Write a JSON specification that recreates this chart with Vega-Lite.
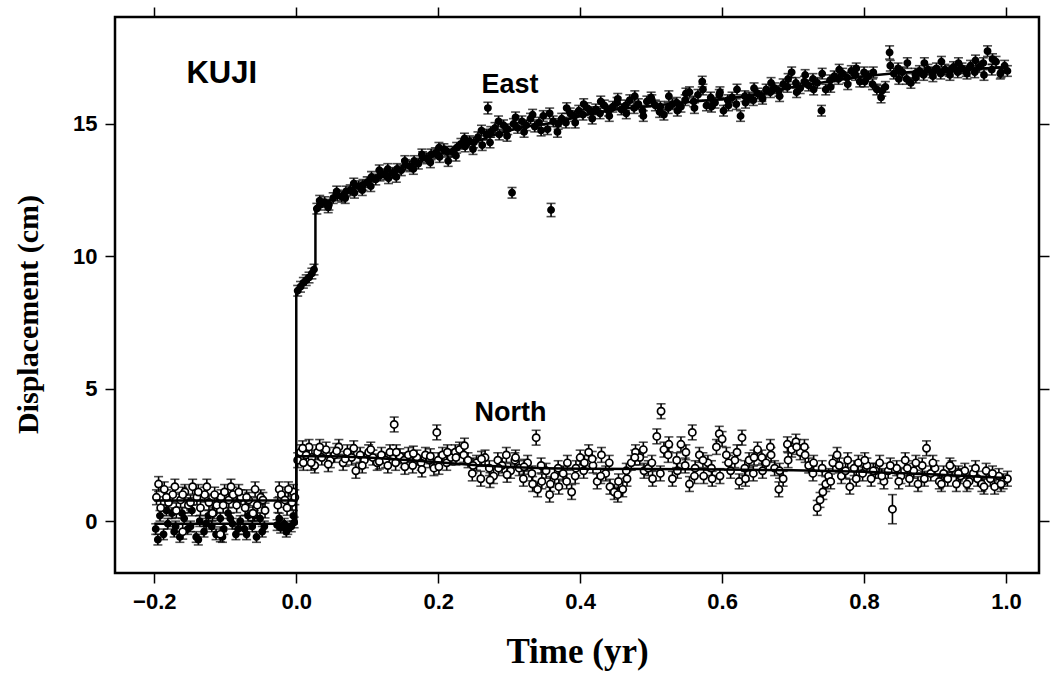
{
"$schema":"https://vega.github.io/schema/vega-lite/v6.json",
"width":924,"height":556,
"autosize":{"type":"none"},
"padding":{"left":115,"top":17,"right":11,"bottom":100},
"background":"white",
"config":{
 "view":{"stroke":"black","strokeWidth":2.5},
 "axis":{"domain":false,"grid":false,"tickColor":"black","tickWidth":1.5,"tickSize":10,"labelColor":"black","labelFont":"Liberation Sans","labelFontWeight":"bold","labelFontSize":22,"titleFont":"Liberation Serif","titleFontWeight":"bold","titleFontSize":30,"titleColor":"black"}
},
"datasets":{
"obs":[
{"s":"E","t":-0.198,"v":-0.3,"e":0.2},{"s":"E","t":-0.192,"v":0.2,"e":0.2},{"s":"E","t":-0.187,"v":-0.5,"e":0.2},{"s":"E","t":-0.181,"v":-0.1,"e":0.2},{"s":"E","t":-0.175,"v":0.3,"e":0.2},{"s":"E","t":-0.17,"v":-0.2,"e":0.2},{"s":"E","t":-0.164,"v":-0.6,"e":0.2},{"s":"E","t":-0.158,"v":0.1,"e":0.2},{"s":"E","t":-0.153,"v":-0.3,"e":0.2},{"s":"E","t":-0.147,"v":0.4,"e":0.2},{"s":"E","t":-0.141,"v":-0.6,"e":0.2},{"s":"E","t":-0.136,"v":0.0,"e":0.2},{"s":"E","t":-0.13,"v":-0.4,"e":0.2},{"s":"E","t":-0.124,"v":0.2,"e":0.2},{"s":"E","t":-0.119,"v":-0.2,"e":0.2},{"s":"E","t":-0.113,"v":-0.5,"e":0.2},{"s":"E","t":-0.107,"v":0.1,"e":0.2},{"s":"E","t":-0.102,"v":-0.3,"e":0.2},{"s":"E","t":-0.096,"v":0.3,"e":0.2},{"s":"E","t":-0.09,"v":-0.1,"e":0.2},{"s":"E","t":-0.085,"v":-0.5,"e":0.2},{"s":"E","t":-0.079,"v":0.0,"e":0.2},{"s":"E","t":-0.073,"v":-0.3,"e":0.2},{"s":"E","t":-0.068,"v":0.2,"e":0.2},{"s":"E","t":-0.062,"v":-0.2,"e":0.2},{"s":"E","t":-0.056,"v":-0.6,"e":0.2},{"s":"E","t":-0.051,"v":0.1,"e":0.2},{"s":"E","t":-0.045,"v":-0.2,"e":0.2},
{"s":"E","t":-0.195,"v":-0.7,"e":0.2},{"s":"E","t":-0.183,"v":0.4,"e":0.2},{"s":"E","t":-0.172,"v":-0.4,"e":0.2},{"s":"E","t":-0.161,"v":0.3,"e":0.2},{"s":"E","t":-0.149,"v":-0.2,"e":0.2},{"s":"E","t":-0.138,"v":-0.7,"e":0.2},{"s":"E","t":-0.127,"v":-0.1,"e":0.2},{"s":"E","t":-0.116,"v":0.3,"e":0.2},{"s":"E","t":-0.104,"v":-0.6,"e":0.2},{"s":"E","t":-0.093,"v":0.1,"e":0.2},{"s":"E","t":-0.082,"v":-0.3,"e":0.2},{"s":"E","t":-0.07,"v":-0.5,"e":0.2},{"s":"E","t":-0.059,"v":0.2,"e":0.2},{"s":"E","t":-0.048,"v":-0.4,"e":0.2},{"s":"E","t":-0.024,"v":0.1,"e":0.2},{"s":"E","t":-0.014,"v":-0.4,"e":0.2},{"s":"E","t":-0.004,"v":0.2,"e":0.2},
{"s":"E","t":-0.027,"v":-0.15,"e":0.2},{"s":"E","t":-0.022,"v":-0.25,"e":0.2},{"s":"E","t":-0.017,"v":-0.1,"e":0.2},{"s":"E","t":-0.012,"v":-0.3,"e":0.2},{"s":"E","t":-0.007,"v":-0.2,"e":0.2},{"s":"E","t":-0.003,"v":-0.05,"e":0.2},
{"s":"E","t":0.002,"v":8.7,"e":0.2},{"s":"E","t":0.006,"v":8.85,"e":0.2},{"s":"E","t":0.01,"v":9.0,"e":0.2},{"s":"E","t":0.014,"v":9.1,"e":0.2},{"s":"E","t":0.018,"v":9.2,"e":0.2},{"s":"E","t":0.022,"v":9.35,"e":0.2},{"s":"E","t":0.025,"v":9.5,"e":0.2},
{"s":"E","t":0.029,"v":11.8,"e":0.2},{"s":"E","t":0.034,"v":11.95,"e":0.2},{"s":"E","t":0.04,"v":12.05,"e":0.2},{"s":"E","t":0.046,"v":11.95,"e":0.2},{"s":"E","t":0.052,"v":12.2,"e":0.2},{"s":"E","t":0.058,"v":12.3,"e":0.2},{"s":"E","t":0.064,"v":12.25,"e":0.2},{"s":"E","t":0.07,"v":12.45,"e":0.2},{"s":"E","t":0.076,"v":12.5,"e":0.2},{"s":"E","t":0.082,"v":12.4,"e":0.2},{"s":"E","t":0.088,"v":12.65,"e":0.2},{"s":"E","t":0.094,"v":12.7,"e":0.2},{"s":"E","t":0.1,"v":12.8,"e":0.2},{"s":"E","t":0.106,"v":13.0,"e":0.2},{"s":"E","t":0.112,"v":12.9,"e":0.2},{"s":"E","t":0.118,"v":13.05,"e":0.2},{"s":"E","t":0.124,"v":13.1,"e":0.2},{"s":"E","t":0.13,"v":12.95,"e":0.2},{"s":"E","t":0.136,"v":13.15,"e":0.2},{"s":"E","t":0.142,"v":13.3,"e":0.2},{"s":"E","t":0.148,"v":13.25,"e":0.2},{"s":"E","t":0.154,"v":13.45,"e":0.2},{"s":"E","t":0.16,"v":13.4,"e":0.2},{"s":"E","t":0.166,"v":13.6,"e":0.2},{"s":"E","t":0.172,"v":13.5,"e":0.2},{"s":"E","t":0.178,"v":13.75,"e":0.2},{"s":"E","t":0.184,"v":13.7,"e":0.2},{"s":"E","t":0.19,"v":13.85,"e":0.2},{"s":"E","t":0.196,"v":13.9,"e":0.2},{"s":"E","t":0.202,"v":13.75,"e":0.2},{"s":"E","t":0.208,"v":14.05,"e":0.2},{"s":"E","t":0.214,"v":13.6,"e":0.2},{"s":"E","t":0.22,"v":13.95,"e":0.2},{"s":"E","t":0.226,"v":14.1,"e":0.2},{"s":"E","t":0.232,"v":14.25,"e":0.2},{"s":"E","t":0.238,"v":14.15,"e":0.2},{"s":"E","t":0.244,"v":14.35,"e":0.2},{"s":"E","t":0.25,"v":14.3,"e":0.2},{"s":"E","t":0.256,"v":14.5,"e":0.2},{"s":"E","t":0.262,"v":14.2,"e":0.2},{"s":"E","t":0.268,"v":14.6,"e":0.2},{"s":"E","t":0.27,"v":15.6,"e":0.22},{"s":"E","t":0.274,"v":14.7,"e":0.2},{"s":"E","t":0.28,"v":14.85,"e":0.2},{"s":"E","t":0.286,"v":14.6,"e":0.2},{"s":"E","t":0.292,"v":14.95,"e":0.2},{"s":"E","t":0.298,"v":14.8,"e":0.2},{"s":"E","t":0.304,"v":12.4,"e":0.2},{"s":"E","t":0.306,"v":15.0,"e":0.2},{"s":"E","t":0.312,"v":14.85,"e":0.2},{"s":"E","t":0.318,"v":15.1,"e":0.2},{"s":"E","t":0.324,"v":14.95,"e":0.2},{"s":"E","t":0.33,"v":15.2,"e":0.2},{"s":"E","t":0.336,"v":14.9,"e":0.2},{"s":"E","t":0.342,"v":15.05,"e":0.2},{"s":"E","t":0.348,"v":15.3,"e":0.2},{"s":"E","t":0.354,"v":14.8,"e":0.2},{"s":"E","t":0.359,"v":11.75,"e":0.25},{"s":"E","t":0.362,"v":15.1,"e":0.2},{"s":"E","t":0.368,"v":14.7,"e":0.2},{"s":"E","t":0.374,"v":15.2,"e":0.2},{"s":"E","t":0.38,"v":15.05,"e":0.2},{"s":"E","t":0.386,"v":15.4,"e":0.2},{"s":"E","t":0.392,"v":15.3,"e":0.2},{"s":"E","t":0.398,"v":15.5,"e":0.2},{"s":"E","t":0.404,"v":15.35,"e":0.2},{"s":"E","t":0.41,"v":15.6,"e":0.2},{"s":"E","t":0.416,"v":15.45,"e":0.2},{"s":"E","t":0.422,"v":15.55,"e":0.2},{"s":"E","t":0.428,"v":15.4,"e":0.2},{"s":"E","t":0.434,"v":15.7,"e":0.2},{"s":"E","t":0.44,"v":15.5,"e":0.2},{"s":"E","t":0.446,"v":15.65,"e":0.2},{"s":"E","t":0.452,"v":15.8,"e":0.2},{"s":"E","t":0.458,"v":15.55,"e":0.2},{"s":"E","t":0.464,"v":15.7,"e":0.2},{"s":"E","t":0.47,"v":15.9,"e":0.2},{"s":"E","t":0.476,"v":15.6,"e":0.2},{"s":"E","t":0.482,"v":15.75,"e":0.2},{"s":"E","t":0.488,"v":15.5,"e":0.2},{"s":"E","t":0.494,"v":15.85,"e":0.2},{"s":"E","t":0.5,"v":16.0,"e":0.2},{"s":"E","t":0.506,"v":15.7,"e":0.2},{"s":"E","t":0.512,"v":15.45,"e":0.2},{"s":"E","t":0.518,"v":15.35,"e":0.2},{"s":"E","t":0.524,"v":15.6,"e":0.2},{"s":"E","t":0.53,"v":15.75,"e":0.2},{"s":"E","t":0.536,"v":15.8,"e":0.2},{"s":"E","t":0.542,"v":15.65,"e":0.2},{"s":"E","t":0.548,"v":15.9,"e":0.2},{"s":"E","t":0.554,"v":16.2,"e":0.2},{"s":"E","t":0.56,"v":15.85,"e":0.2},{"s":"E","t":0.566,"v":16.1,"e":0.2},{"s":"E","t":0.572,"v":16.6,"e":0.2},{"s":"E","t":0.578,"v":15.7,"e":0.2},{"s":"E","t":0.584,"v":16.0,"e":0.2},{"s":"E","t":0.59,"v":15.8,"e":0.2},{"s":"E","t":0.596,"v":16.1,"e":0.2},{"s":"E","t":0.602,"v":15.5,"e":0.2},{"s":"E","t":0.608,"v":15.9,"e":0.2},{"s":"E","t":0.614,"v":16.0,"e":0.2},{"s":"E","t":0.62,"v":15.75,"e":0.2},{"s":"E","t":0.626,"v":15.3,"e":0.2},{"s":"E","t":0.632,"v":16.05,"e":0.2},{"s":"E","t":0.638,"v":16.0,"e":0.2},{"s":"E","t":0.644,"v":15.9,"e":0.2},{"s":"E","t":0.65,"v":16.15,"e":0.2},{"s":"E","t":0.656,"v":16.05,"e":0.2},{"s":"E","t":0.662,"v":16.3,"e":0.2},{"s":"E","t":0.668,"v":16.2,"e":0.2},{"s":"E","t":0.674,"v":16.35,"e":0.2},{"s":"E","t":0.68,"v":16.25,"e":0.2},{"s":"E","t":0.686,"v":16.5,"e":0.2},{"s":"E","t":0.692,"v":16.4,"e":0.2},{"s":"E","t":0.698,"v":16.95,"e":0.2},{"s":"E","t":0.704,"v":16.55,"e":0.2},{"s":"E","t":0.71,"v":16.35,"e":0.2},{"s":"E","t":0.716,"v":16.6,"e":0.2},{"s":"E","t":0.722,"v":16.45,"e":0.2},{"s":"E","t":0.728,"v":16.7,"e":0.2},{"s":"E","t":0.734,"v":16.55,"e":0.2},{"s":"E","t":0.74,"v":15.5,"e":0.2},{"s":"E","t":0.746,"v":16.3,"e":0.2},{"s":"E","t":0.752,"v":16.65,"e":0.2},{"s":"E","t":0.758,"v":16.8,"e":0.2},{"s":"E","t":0.764,"v":16.7,"e":0.2},{"s":"E","t":0.77,"v":16.9,"e":0.2},{"s":"E","t":0.776,"v":16.75,"e":0.2},{"s":"E","t":0.782,"v":17.0,"e":0.2},{"s":"E","t":0.788,"v":16.85,"e":0.2},{"s":"E","t":0.794,"v":16.6,"e":0.2},{"s":"E","t":0.8,"v":16.95,"e":0.2},{"s":"E","t":0.806,"v":16.8,"e":0.2},{"s":"E","t":0.812,"v":16.5,"e":0.2},{"s":"E","t":0.818,"v":16.3,"e":0.2},{"s":"E","t":0.824,"v":16.0,"e":0.2},{"s":"E","t":0.83,"v":16.4,"e":0.2},{"s":"E","t":0.836,"v":17.7,"e":0.25},{"s":"E","t":0.842,"v":16.9,"e":0.2},{"s":"E","t":0.848,"v":17.1,"e":0.2},{"s":"E","t":0.854,"v":16.95,"e":0.2},{"s":"E","t":0.86,"v":16.7,"e":0.2},{"s":"E","t":0.866,"v":16.55,"e":0.2},{"s":"E","t":0.872,"v":16.9,"e":0.2},{"s":"E","t":0.878,"v":17.0,"e":0.2},{"s":"E","t":0.884,"v":16.85,"e":0.2},{"s":"E","t":0.89,"v":17.05,"e":0.2},{"s":"E","t":0.896,"v":16.95,"e":0.2},{"s":"E","t":0.902,"v":17.1,"e":0.2},{"s":"E","t":0.908,"v":16.9,"e":0.2},{"s":"E","t":0.914,"v":17.05,"e":0.2},{"s":"E","t":0.92,"v":17.0,"e":0.2},{"s":"E","t":0.926,"v":17.15,"e":0.2},{"s":"E","t":0.932,"v":16.95,"e":0.2},{"s":"E","t":0.938,"v":17.1,"e":0.2},{"s":"E","t":0.944,"v":17.0,"e":0.2},{"s":"E","t":0.95,"v":17.2,"e":0.2},{"s":"E","t":0.956,"v":16.95,"e":0.2},{"s":"E","t":0.962,"v":17.15,"e":0.2},{"s":"E","t":0.968,"v":17.3,"e":0.2},{"s":"E","t":0.974,"v":17.75,"e":0.2},{"s":"E","t":0.98,"v":17.05,"e":0.2},{"s":"E","t":0.986,"v":17.35,"e":0.2},{"s":"E","t":0.992,"v":16.9,"e":0.2},{"s":"E","t":0.998,"v":17.2,"e":0.2},{"s":"E","t":1.002,"v":17.0,"e":0.2},
{"s":"E","t":0.033,"v":12.1,"e":0.2},{"s":"E","t":0.045,"v":11.85,"e":0.2},{"s":"E","t":0.057,"v":12.45,"e":0.2},{"s":"E","t":0.069,"v":12.2,"e":0.2},{"s":"E","t":0.081,"v":12.75,"e":0.2},{"s":"E","t":0.093,"v":12.5,"e":0.2},{"s":"E","t":0.105,"v":12.65,"e":0.2},{"s":"E","t":0.117,"v":13.25,"e":0.2},{"s":"E","t":0.129,"v":13.3,"e":0.2},{"s":"E","t":0.141,"v":13.0,"e":0.2},{"s":"E","t":0.153,"v":13.6,"e":0.2},{"s":"E","t":0.165,"v":13.3,"e":0.2},{"s":"E","t":0.177,"v":13.85,"e":0.2},{"s":"E","t":0.189,"v":13.55,"e":0.2},{"s":"E","t":0.201,"v":14.1,"e":0.2},{"s":"E","t":0.213,"v":13.95,"e":0.2},{"s":"E","t":0.225,"v":13.8,"e":0.2},{"s":"E","t":0.237,"v":14.45,"e":0.2},{"s":"E","t":0.249,"v":14.05,"e":0.2},{"s":"E","t":0.261,"v":14.75,"e":0.2},{"s":"E","t":0.273,"v":14.3,"e":0.2},{"s":"E","t":0.285,"v":15.1,"e":0.2},{"s":"E","t":0.297,"v":14.55,"e":0.2},{"s":"E","t":0.309,"v":15.25,"e":0.2},{"s":"E","t":0.321,"v":14.7,"e":0.2},{"s":"E","t":0.333,"v":15.35,"e":0.2},{"s":"E","t":0.345,"v":14.75,"e":0.2},{"s":"E","t":0.357,"v":15.4,"e":0.2},{"s":"E","t":0.369,"v":15.0,"e":0.2},{"s":"E","t":0.381,"v":15.6,"e":0.2},{"s":"E","t":0.393,"v":15.05,"e":0.2},{"s":"E","t":0.405,"v":15.75,"e":0.2},{"s":"E","t":0.417,"v":15.2,"e":0.2},{"s":"E","t":0.429,"v":15.85,"e":0.2},{"s":"E","t":0.441,"v":15.3,"e":0.2},{"s":"E","t":0.453,"v":15.95,"e":0.2},{"s":"E","t":0.465,"v":15.4,"e":0.2},{"s":"E","t":0.477,"v":16.05,"e":0.2},{"s":"E","t":0.489,"v":15.3,"e":0.2},{"s":"E","t":0.501,"v":15.9,"e":0.2},{"s":"E","t":0.513,"v":15.65,"e":0.2},{"s":"E","t":0.525,"v":16.05,"e":0.2},{"s":"E","t":0.537,"v":15.5,"e":0.2},{"s":"E","t":0.549,"v":16.15,"e":0.2},{"s":"E","t":0.561,"v":15.6,"e":0.2},{"s":"E","t":0.573,"v":16.3,"e":0.2},{"s":"E","t":0.585,"v":15.65,"e":0.2},{"s":"E","t":0.597,"v":16.2,"e":0.2},{"s":"E","t":0.609,"v":15.7,"e":0.2},{"s":"E","t":0.621,"v":16.3,"e":0.2},{"s":"E","t":0.633,"v":15.8,"e":0.2},{"s":"E","t":0.645,"v":16.35,"e":0.2},{"s":"E","t":0.657,"v":15.95,"e":0.2},{"s":"E","t":0.669,"v":16.55,"e":0.2},{"s":"E","t":0.681,"v":16.05,"e":0.2},{"s":"E","t":0.693,"v":16.7,"e":0.2},{"s":"E","t":0.705,"v":16.2,"e":0.2},{"s":"E","t":0.717,"v":16.85,"e":0.2},{"s":"E","t":0.729,"v":16.3,"e":0.2},{"s":"E","t":0.741,"v":16.9,"e":0.2},{"s":"E","t":0.753,"v":16.4,"e":0.2},{"s":"E","t":0.765,"v":17.05,"e":0.2},{"s":"E","t":0.777,"v":16.5,"e":0.2},{"s":"E","t":0.789,"v":17.1,"e":0.2},{"s":"E","t":0.801,"v":16.6,"e":0.2},{"s":"E","t":0.813,"v":16.95,"e":0.2},{"s":"E","t":0.825,"v":16.25,"e":0.2},{"s":"E","t":0.837,"v":17.2,"e":0.2},{"s":"E","t":0.849,"v":16.7,"e":0.2},{"s":"E","t":0.861,"v":17.3,"e":0.2},{"s":"E","t":0.873,"v":16.75,"e":0.2},{"s":"E","t":0.885,"v":17.3,"e":0.2},{"s":"E","t":0.897,"v":16.8,"e":0.2},{"s":"E","t":0.909,"v":17.35,"e":0.2},{"s":"E","t":0.921,"v":16.85,"e":0.2},{"s":"E","t":0.933,"v":17.3,"e":0.2},{"s":"E","t":0.945,"v":16.9,"e":0.2},{"s":"E","t":0.957,"v":17.4,"e":0.2},{"s":"E","t":0.969,"v":16.85,"e":0.2},{"s":"E","t":0.981,"v":17.45,"e":0.2},{"s":"E","t":0.993,"v":16.95,"e":0.2},
{"s":"N","t":-0.197,"v":0.9,"e":0.28},{"s":"N","t":-0.191,"v":0.5,"e":0.28},{"s":"N","t":-0.186,"v":1.2,"e":0.28},{"s":"N","t":-0.18,"v":0.7,"e":0.28},{"s":"N","t":-0.174,"v":1.0,"e":0.28},{"s":"N","t":-0.169,"v":0.4,"e":0.28},{"s":"N","t":-0.163,"v":0.8,"e":0.28},{"s":"N","t":-0.16,"v":-0.4,"e":0.28},{"s":"N","t":-0.157,"v":1.1,"e":0.28},{"s":"N","t":-0.152,"v":0.6,"e":0.28},{"s":"N","t":-0.146,"v":1.3,"e":0.28},{"s":"N","t":-0.14,"v":0.9,"e":0.28},{"s":"N","t":-0.135,"v":0.5,"e":0.28},{"s":"N","t":-0.129,"v":1.0,"e":0.28},{"s":"N","t":-0.123,"v":0.7,"e":0.28},{"s":"N","t":-0.118,"v":0.3,"e":0.28},{"s":"N","t":-0.112,"v":0.6,"e":0.28},{"s":"N","t":-0.107,"v":-0.5,"e":0.28},{"s":"N","t":-0.106,"v":0.9,"e":0.28},{"s":"N","t":-0.101,"v":1.1,"e":0.28},{"s":"N","t":-0.095,"v":0.8,"e":0.28},{"s":"N","t":-0.089,"v":1.0,"e":0.28},{"s":"N","t":-0.084,"v":0.6,"e":0.28},{"s":"N","t":-0.078,"v":0.9,"e":0.28},{"s":"N","t":-0.072,"v":0.5,"e":0.28},{"s":"N","t":-0.067,"v":0.8,"e":0.28},{"s":"N","t":-0.061,"v":0.3,"e":0.28},{"s":"N","t":-0.055,"v":0.6,"e":0.28},{"s":"N","t":-0.05,"v":0.9,"e":0.28},{"s":"N","t":-0.044,"v":0.4,"e":0.28},
{"s":"N","t":-0.194,"v":1.4,"e":0.28},{"s":"N","t":-0.183,"v":0.9,"e":0.28},{"s":"N","t":-0.171,"v":1.3,"e":0.28},{"s":"N","t":-0.16,"v":1.0,"e":0.28},{"s":"N","t":-0.149,"v":0.7,"e":0.28},{"s":"N","t":-0.138,"v":1.1,"e":0.28},{"s":"N","t":-0.126,"v":1.3,"e":0.28},{"s":"N","t":-0.115,"v":1.0,"e":0.28},{"s":"N","t":-0.103,"v":0.6,"e":0.28},{"s":"N","t":-0.092,"v":1.3,"e":0.28},{"s":"N","t":-0.081,"v":1.1,"e":0.28},{"s":"N","t":-0.07,"v":0.9,"e":0.28},{"s":"N","t":-0.058,"v":1.2,"e":0.28},{"s":"N","t":-0.047,"v":0.8,"e":0.28},{"s":"N","t":-0.024,"v":1.2,"e":0.28},{"s":"N","t":-0.013,"v":0.5,"e":0.28},{"s":"N","t":-0.004,"v":1.1,"e":0.28},
{"s":"N","t":-0.026,"v":0.6,"e":0.28},{"s":"N","t":-0.021,"v":1.0,"e":0.28},{"s":"N","t":-0.016,"v":0.8,"e":0.28},{"s":"N","t":-0.011,"v":1.2,"e":0.28},{"s":"N","t":-0.006,"v":0.7,"e":0.28},{"s":"N","t":-0.002,"v":0.9,"e":0.28},
{"s":"N","t":0.002,"v":2.3,"e":0.28},{"s":"N","t":0.006,"v":2.6,"e":0.28},{"s":"N","t":0.01,"v":2.2,"e":0.28},{"s":"N","t":0.014,"v":2.5,"e":0.28},{"s":"N","t":0.018,"v":2.8,"e":0.28},{"s":"N","t":0.022,"v":2.4,"e":0.28},{"s":"N","t":0.026,"v":2.1,"e":0.28},{"s":"N","t":0.03,"v":2.6,"e":0.28},{"s":"N","t":0.036,"v":2.4,"e":0.28},{"s":"N","t":0.042,"v":2.7,"e":0.28},{"s":"N","t":0.048,"v":2.3,"e":0.28},{"s":"N","t":0.054,"v":2.5,"e":0.28},{"s":"N","t":0.06,"v":2.8,"e":0.28},{"s":"N","t":0.066,"v":2.2,"e":0.28},{"s":"N","t":0.072,"v":2.6,"e":0.28},{"s":"N","t":0.078,"v":2.4,"e":0.28},{"s":"N","t":0.084,"v":1.9,"e":0.28},{"s":"N","t":0.09,"v":2.5,"e":0.28},{"s":"N","t":0.096,"v":2.3,"e":0.28},{"s":"N","t":0.102,"v":2.6,"e":0.28},{"s":"N","t":0.108,"v":2.4,"e":0.28},{"s":"N","t":0.114,"v":2.2,"e":0.28},{"s":"N","t":0.12,"v":2.5,"e":0.28},{"s":"N","t":0.126,"v":2.3,"e":0.28},{"s":"N","t":0.132,"v":2.6,"e":0.28},{"s":"N","t":0.138,"v":3.65,"e":0.28},{"s":"N","t":0.14,"v":2.2,"e":0.28},{"s":"N","t":0.146,"v":2.45,"e":0.28},{"s":"N","t":0.152,"v":2.3,"e":0.28},{"s":"N","t":0.158,"v":2.5,"e":0.28},{"s":"N","t":0.164,"v":2.1,"e":0.28},{"s":"N","t":0.17,"v":2.4,"e":0.28},{"s":"N","t":0.176,"v":2.2,"e":0.28},{"s":"N","t":0.182,"v":2.5,"e":0.28},{"s":"N","t":0.188,"v":2.3,"e":0.28},{"s":"N","t":0.194,"v":2.0,"e":0.28},{"s":"N","t":0.198,"v":3.35,"e":0.28},{"s":"N","t":0.2,"v":2.3,"e":0.28},{"s":"N","t":0.206,"v":2.5,"e":0.28},{"s":"N","t":0.212,"v":2.2,"e":0.28},{"s":"N","t":0.218,"v":2.4,"e":0.28},{"s":"N","t":0.224,"v":2.6,"e":0.28},{"s":"N","t":0.23,"v":2.7,"e":0.28},{"s":"N","t":0.236,"v":2.5,"e":0.28},{"s":"N","t":0.242,"v":2.3,"e":0.28},{"s":"N","t":0.248,"v":1.8,"e":0.28},{"s":"N","t":0.254,"v":2.2,"e":0.28},{"s":"N","t":0.26,"v":1.6,"e":0.28},{"s":"N","t":0.266,"v":2.4,"e":0.28},{"s":"N","t":0.272,"v":2.0,"e":0.28},{"s":"N","t":0.278,"v":1.7,"e":0.28},{"s":"N","t":0.284,"v":2.3,"e":0.28},{"s":"N","t":0.29,"v":2.1,"e":0.28},{"s":"N","t":0.296,"v":2.5,"e":0.28},{"s":"N","t":0.302,"v":1.9,"e":0.28},{"s":"N","t":0.308,"v":2.3,"e":0.28},{"s":"N","t":0.314,"v":2.0,"e":0.28},{"s":"N","t":0.32,"v":1.6,"e":0.28},{"s":"N","t":0.326,"v":2.2,"e":0.28},{"s":"N","t":0.332,"v":1.8,"e":0.28},{"s":"N","t":0.338,"v":3.15,"e":0.28},{"s":"N","t":0.34,"v":1.2,"e":0.28},{"s":"N","t":0.346,"v":1.5,"e":0.28},{"s":"N","t":0.352,"v":1.9,"e":0.28},{"s":"N","t":0.358,"v":1.4,"e":0.28},{"s":"N","t":0.364,"v":1.7,"e":0.28},{"s":"N","t":0.37,"v":1.3,"e":0.28},{"s":"N","t":0.376,"v":1.8,"e":0.28},{"s":"N","t":0.382,"v":2.2,"e":0.28},{"s":"N","t":0.388,"v":1.1,"e":0.28},{"s":"N","t":0.394,"v":2.0,"e":0.28},{"s":"N","t":0.4,"v":2.4,"e":0.28},{"s":"N","t":0.406,"v":2.2,"e":0.28},{"s":"N","t":0.412,"v":2.6,"e":0.28},{"s":"N","t":0.418,"v":2.1,"e":0.28},{"s":"N","t":0.424,"v":1.5,"e":0.28},{"s":"N","t":0.43,"v":2.5,"e":0.28},{"s":"N","t":0.436,"v":1.8,"e":0.28},{"s":"N","t":0.442,"v":1.3,"e":0.28},{"s":"N","t":0.448,"v":1.1,"e":0.28},{"s":"N","t":0.454,"v":1.5,"e":0.28},{"s":"N","t":0.46,"v":1.2,"e":0.28},{"s":"N","t":0.466,"v":1.6,"e":0.28},{"s":"N","t":0.472,"v":2.2,"e":0.28},{"s":"N","t":0.478,"v":2.6,"e":0.28},{"s":"N","t":0.484,"v":2.4,"e":0.28},{"s":"N","t":0.49,"v":1.9,"e":0.28},{"s":"N","t":0.496,"v":2.0,"e":0.28},{"s":"N","t":0.502,"v":1.6,"e":0.28},{"s":"N","t":0.508,"v":3.2,"e":0.28},{"s":"N","t":0.514,"v":4.15,"e":0.28},{"s":"N","t":0.518,"v":2.7,"e":0.28},{"s":"N","t":0.524,"v":2.5,"e":0.28},{"s":"N","t":0.53,"v":1.6,"e":0.28},{"s":"N","t":0.536,"v":2.3,"e":0.28},{"s":"N","t":0.542,"v":2.9,"e":0.28},{"s":"N","t":0.548,"v":2.1,"e":0.28},{"s":"N","t":0.554,"v":1.4,"e":0.28},{"s":"N","t":0.558,"v":3.35,"e":0.28},{"s":"N","t":0.562,"v":2.0,"e":0.28},{"s":"N","t":0.568,"v":2.5,"e":0.28},{"s":"N","t":0.574,"v":1.7,"e":0.28},{"s":"N","t":0.58,"v":2.2,"e":0.28},{"s":"N","t":0.586,"v":1.6,"e":0.28},{"s":"N","t":0.592,"v":2.8,"e":0.28},{"s":"N","t":0.596,"v":3.3,"e":0.28},{"s":"N","t":0.6,"v":3.1,"e":0.28},{"s":"N","t":0.606,"v":2.5,"e":0.28},{"s":"N","t":0.612,"v":1.9,"e":0.28},{"s":"N","t":0.618,"v":2.3,"e":0.28},{"s":"N","t":0.624,"v":1.5,"e":0.28},{"s":"N","t":0.628,"v":3.15,"e":0.28},{"s":"N","t":0.632,"v":2.0,"e":0.28},{"s":"N","t":0.638,"v":2.3,"e":0.28},{"s":"N","t":0.644,"v":1.8,"e":0.28},{"s":"N","t":0.65,"v":2.7,"e":0.28},{"s":"N","t":0.656,"v":2.4,"e":0.28},{"s":"N","t":0.662,"v":2.2,"e":0.28},{"s":"N","t":0.668,"v":2.8,"e":0.28},{"s":"N","t":0.674,"v":2.0,"e":0.28},{"s":"N","t":0.68,"v":1.2,"e":0.28},{"s":"N","t":0.686,"v":1.6,"e":0.28},{"s":"N","t":0.692,"v":2.9,"e":0.28},{"s":"N","t":0.698,"v":2.7,"e":0.28},{"s":"N","t":0.704,"v":3.0,"e":0.28},{"s":"N","t":0.71,"v":2.6,"e":0.28},{"s":"N","t":0.716,"v":2.8,"e":0.28},{"s":"N","t":0.722,"v":2.1,"e":0.28},{"s":"N","t":0.728,"v":1.8,"e":0.28},{"s":"N","t":0.734,"v":0.5,"e":0.28},{"s":"N","t":0.738,"v":0.8,"e":0.28},{"s":"N","t":0.742,"v":1.1,"e":0.28},{"s":"N","t":0.746,"v":1.4,"e":0.28},{"s":"N","t":0.75,"v":1.7,"e":0.28},{"s":"N","t":0.756,"v":2.2,"e":0.28},{"s":"N","t":0.762,"v":2.5,"e":0.28},{"s":"N","t":0.768,"v":1.7,"e":0.28},{"s":"N","t":0.774,"v":1.9,"e":0.28},{"s":"N","t":0.78,"v":1.3,"e":0.28},{"s":"N","t":0.786,"v":2.0,"e":0.28},{"s":"N","t":0.792,"v":2.2,"e":0.28},{"s":"N","t":0.798,"v":1.8,"e":0.28},{"s":"N","t":0.804,"v":2.1,"e":0.28},{"s":"N","t":0.81,"v":1.6,"e":0.28},{"s":"N","t":0.816,"v":1.9,"e":0.28},{"s":"N","t":0.822,"v":2.2,"e":0.28},{"s":"N","t":0.828,"v":1.5,"e":0.28},{"s":"N","t":0.834,"v":1.9,"e":0.28},{"s":"N","t":0.84,"v":0.45,"e":0.55},{"s":"N","t":0.846,"v":2.0,"e":0.28},{"s":"N","t":0.852,"v":1.7,"e":0.28},{"s":"N","t":0.858,"v":2.3,"e":0.28},{"s":"N","t":0.864,"v":1.6,"e":0.28},{"s":"N","t":0.87,"v":1.9,"e":0.28},{"s":"N","t":0.876,"v":1.4,"e":0.28},{"s":"N","t":0.882,"v":2.1,"e":0.28},{"s":"N","t":0.888,"v":2.75,"e":0.28},{"s":"N","t":0.894,"v":1.8,"e":0.28},{"s":"N","t":0.9,"v":2.0,"e":0.28},{"s":"N","t":0.906,"v":1.5,"e":0.28},{"s":"N","t":0.912,"v":1.8,"e":0.28},{"s":"N","t":0.918,"v":1.6,"e":0.28},{"s":"N","t":0.924,"v":2.0,"e":0.28},{"s":"N","t":0.93,"v":1.4,"e":0.28},{"s":"N","t":0.936,"v":1.7,"e":0.28},{"s":"N","t":0.942,"v":1.9,"e":0.28},{"s":"N","t":0.948,"v":1.5,"e":0.28},{"s":"N","t":0.954,"v":1.8,"e":0.28},{"s":"N","t":0.96,"v":1.6,"e":0.28},{"s":"N","t":0.966,"v":1.4,"e":0.28},{"s":"N","t":0.972,"v":1.9,"e":0.28},{"s":"N","t":0.978,"v":1.6,"e":0.28},{"s":"N","t":0.984,"v":1.3,"e":0.28},{"s":"N","t":0.99,"v":1.7,"e":0.28},{"s":"N","t":0.996,"v":1.5,"e":0.28},{"s":"N","t":1.002,"v":1.6,"e":0.28},
{"s":"N","t":0.009,"v":2.75,"e":0.28},{"s":"N","t":0.021,"v":2.2,"e":0.28},{"s":"N","t":0.033,"v":2.8,"e":0.28},{"s":"N","t":0.045,"v":2.15,"e":0.28},{"s":"N","t":0.057,"v":2.65,"e":0.28},{"s":"N","t":0.069,"v":2.35,"e":0.28},{"s":"N","t":0.081,"v":2.75,"e":0.28},{"s":"N","t":0.093,"v":2.1,"e":0.28},{"s":"N","t":0.105,"v":2.7,"e":0.28},{"s":"N","t":0.117,"v":2.25,"e":0.28},{"s":"N","t":0.129,"v":2.1,"e":0.28},{"s":"N","t":0.141,"v":2.6,"e":0.28},{"s":"N","t":0.153,"v":2.05,"e":0.28},{"s":"N","t":0.165,"v":2.55,"e":0.28},{"s":"N","t":0.177,"v":1.95,"e":0.28},{"s":"N","t":0.189,"v":2.45,"e":0.28},{"s":"N","t":0.201,"v":2.05,"e":0.28},{"s":"N","t":0.213,"v":2.6,"e":0.28},{"s":"N","t":0.225,"v":2.4,"e":0.28},{"s":"N","t":0.237,"v":2.85,"e":0.28},{"s":"N","t":0.249,"v":2.1,"e":0.28},{"s":"N","t":0.261,"v":2.35,"e":0.28},{"s":"N","t":0.273,"v":1.55,"e":0.28},{"s":"N","t":0.285,"v":2.0,"e":0.28},{"s":"N","t":0.297,"v":1.75,"e":0.28},{"s":"N","t":0.309,"v":2.4,"e":0.28},{"s":"N","t":0.321,"v":2.05,"e":0.28},{"s":"N","t":0.333,"v":1.4,"e":0.28},{"s":"N","t":0.345,"v":2.1,"e":0.28},{"s":"N","t":0.357,"v":1.0,"e":0.28},{"s":"N","t":0.369,"v":2.0,"e":0.28},{"s":"N","t":0.381,"v":1.5,"e":0.28},{"s":"N","t":0.393,"v":1.7,"e":0.28},{"s":"N","t":0.405,"v":1.9,"e":0.28},{"s":"N","t":0.417,"v":2.35,"e":0.28},{"s":"N","t":0.429,"v":1.7,"e":0.28},{"s":"N","t":0.441,"v":2.2,"e":0.28},{"s":"N","t":0.453,"v":1.0,"e":0.28},{"s":"N","t":0.465,"v":1.9,"e":0.28},{"s":"N","t":0.477,"v":2.4,"e":0.28},{"s":"N","t":0.489,"v":2.7,"e":0.28},{"s":"N","t":0.501,"v":2.2,"e":0.28},{"s":"N","t":0.513,"v":1.8,"e":0.28},{"s":"N","t":0.525,"v":2.9,"e":0.28},{"s":"N","t":0.537,"v":1.9,"e":0.28},{"s":"N","t":0.549,"v":2.6,"e":0.28},{"s":"N","t":0.561,"v":1.7,"e":0.28},{"s":"N","t":0.573,"v":2.3,"e":0.28},{"s":"N","t":0.585,"v":2.0,"e":0.28},{"s":"N","t":0.597,"v":1.7,"e":0.28},{"s":"N","t":0.609,"v":2.2,"e":0.28},{"s":"N","t":0.621,"v":2.6,"e":0.28},{"s":"N","t":0.633,"v":1.6,"e":0.28},{"s":"N","t":0.645,"v":2.4,"e":0.28},{"s":"N","t":0.657,"v":1.9,"e":0.28},{"s":"N","t":0.669,"v":2.5,"e":0.28},{"s":"N","t":0.681,"v":1.9,"e":0.28},{"s":"N","t":0.693,"v":2.3,"e":0.28},{"s":"N","t":0.705,"v":2.8,"e":0.28},{"s":"N","t":0.717,"v":2.5,"e":0.28},{"s":"N","t":0.729,"v":2.2,"e":0.28},{"s":"N","t":0.741,"v":2.0,"e":0.28},{"s":"N","t":0.753,"v":1.5,"e":0.28},{"s":"N","t":0.765,"v":2.1,"e":0.28},{"s":"N","t":0.777,"v":2.3,"e":0.28},{"s":"N","t":0.789,"v":1.6,"e":0.28},{"s":"N","t":0.801,"v":2.3,"e":0.28},{"s":"N","t":0.813,"v":1.9,"e":0.28},{"s":"N","t":0.825,"v":1.7,"e":0.28},{"s":"N","t":0.837,"v":2.1,"e":0.28},{"s":"N","t":0.849,"v":1.5,"e":0.28},{"s":"N","t":0.861,"v":2.0,"e":0.28},{"s":"N","t":0.873,"v":2.2,"e":0.28},{"s":"N","t":0.885,"v":1.6,"e":0.28},{"s":"N","t":0.897,"v":2.2,"e":0.28},{"s":"N","t":0.909,"v":1.4,"e":0.28},{"s":"N","t":0.921,"v":2.1,"e":0.28},{"s":"N","t":0.933,"v":1.8,"e":0.28},{"s":"N","t":0.945,"v":1.4,"e":0.28},{"s":"N","t":0.957,"v":2.0,"e":0.28},{"s":"N","t":0.969,"v":1.3,"e":0.28},{"s":"N","t":0.981,"v":1.8,"e":0.28},{"s":"N","t":0.993,"v":1.4,"e":0.28}
],
"model":[
{"s":"E","o":1,"t":-0.2,"v":-0.1},{"s":"E","o":2,"t":0,"v":-0.1},{"s":"E","o":3,"t":0,"v":8.7},{"s":"E","o":4,"t":0.027,"v":9.5},{"s":"E","o":5,"t":0.027,"v":11.8},{"s":"E","o":6,"t":0.05,"v":12.15},{"s":"E","o":7,"t":0.075,"v":12.5},{"s":"E","o":8,"t":0.1,"v":12.8},{"s":"E","o":9,"t":0.125,"v":13.05},{"s":"E","o":10,"t":0.15,"v":13.35},{"s":"E","o":11,"t":0.175,"v":13.6},{"s":"E","o":12,"t":0.2,"v":13.85},{"s":"E","o":13,"t":0.225,"v":14.05},{"s":"E","o":14,"t":0.25,"v":14.3},{"s":"E","o":15,"t":0.275,"v":14.55},{"s":"E","o":16,"t":0.3,"v":14.75},{"s":"E","o":17,"t":0.325,"v":14.9},{"s":"E","o":18,"t":0.35,"v":15.0},{"s":"E","o":19,"t":0.375,"v":15.12},{"s":"E","o":20,"t":0.4,"v":15.3},{"s":"E","o":21,"t":0.45,"v":15.55},{"s":"E","o":22,"t":0.5,"v":15.68},{"s":"E","o":23,"t":0.55,"v":15.82},{"s":"E","o":24,"t":0.6,"v":15.94},{"s":"E","o":25,"t":0.65,"v":16.1},{"s":"E","o":26,"t":0.7,"v":16.4},{"s":"E","o":27,"t":0.75,"v":16.6},{"s":"E","o":28,"t":0.8,"v":16.8},{"s":"E","o":29,"t":0.85,"v":16.93},{"s":"E","o":30,"t":0.9,"v":17.02},{"s":"E","o":31,"t":0.95,"v":17.08},{"s":"E","o":32,"t":1.0,"v":17.14},
{"s":"N","o":1,"t":-0.2,"v":0.78},{"s":"N","o":2,"t":0,"v":0.78},{"s":"N","o":3,"t":0,"v":2.45},{"s":"N","o":4,"t":0.05,"v":2.45},{"s":"N","o":5,"t":0.1,"v":2.4},{"s":"N","o":6,"t":0.15,"v":2.32},{"s":"N","o":7,"t":0.2,"v":2.22},{"s":"N","o":8,"t":0.25,"v":2.12},{"s":"N","o":9,"t":0.3,"v":2.04},{"s":"N","o":10,"t":0.35,"v":2.0},{"s":"N","o":11,"t":0.4,"v":1.98},{"s":"N","o":12,"t":0.5,"v":1.97},{"s":"N","o":13,"t":0.6,"v":1.95},{"s":"N","o":14,"t":0.7,"v":1.92},{"s":"N","o":15,"t":0.8,"v":1.86},{"s":"N","o":16,"t":0.9,"v":1.76},{"s":"N","o":17,"t":1.0,"v":1.63}
],
"station":[{"t":-0.105,"v":16.9,"label":"KUJI"}],
"comp":[{"t":0.301,"v":16.47,"label":"East"},{"t":0.302,"v":4.08,"label":"North"}]
},
"layer":[
{"data":{"name":"obs"},
 "mark":{"type":"errorbar","ticks":{"size":9,"thickness":1.6,"color":"black"},"rule":{"strokeWidth":1.6,"color":"black"},"color":"black"},
 "encoding":{
  "x":{"field":"t","type":"quantitative","scale":{"domain":[-0.2554,1.0465],"nice":false,"zero":false},"axis":null},
  "y":{"field":"v","type":"quantitative","scale":{"domain":[-1.96,19.04],"nice":false,"zero":false},"axis":null},
  "yError":{"field":"e"}
 }},
{"data":{"name":"obs"},
 "mark":{"type":"point","shape":"circle","stroke":"black","strokeWidth":1.7,"opacity":1,"fillOpacity":1},
 "encoding":{
  "x":{"field":"t","type":"quantitative","scale":{"domain":[-0.2554,1.0465],"nice":false,"zero":false},"axis":{"orient":"top","values":[-0.2,0,0.2,0.4,0.6,0.8,1.0],"labels":false,"title":null}},
  "y":{"field":"v","type":"quantitative","scale":{"domain":[-1.96,19.04],"nice":false,"zero":false},"axis":{"orient":"right","values":[0,5,10,15],"labels":false,"title":null}},
  "fill":{"field":"s","type":"nominal","scale":{"domain":["E","N"],"range":["black","white"]},"legend":null},
  "size":{"field":"s","type":"nominal","scale":{"domain":["E","N"],"range":[38,52]},"legend":null}
 }},
{"data":{"name":"model"},
 "mark":{"type":"line","color":"black","strokeWidth":2.5},
 "encoding":{
  "x":{"field":"t","type":"quantitative","scale":{"domain":[-0.2554,1.0465],"nice":false,"zero":false},"axis":{"orient":"bottom","values":[-0.2,0,0.2,0.4,0.6,0.8,1.0],"format":".1f","title":"Time (yr)","labelPadding":8,"titleY":78,"titleBaseline":"middle","titleFontSize":35}},
  "y":{"field":"v","type":"quantitative","scale":{"domain":[-1.96,19.04],"nice":false,"zero":false},"axis":{"orient":"left","values":[0,5,10,15],"format":"d","title":"Displacement (cm)","labelPadding":8,"titleX":-87,"titleY":297,"titleBaseline":"middle"}},
  "detail":{"field":"s","type":"nominal"},
  "order":{"field":"o","type":"quantitative"}
 }},
{"data":{"name":"station"},
 "mark":{"type":"text","font":"Liberation Sans","fontWeight":"bold","fontSize":31,"color":"black","align":"center","baseline":"middle"},
 "encoding":{
  "x":{"field":"t","type":"quantitative","axis":null},
  "y":{"field":"v","type":"quantitative","axis":null},
  "text":{"field":"label"}
 }},
{"data":{"name":"comp"},
 "mark":{"type":"text","font":"Liberation Sans","fontWeight":"bold","fontSize":27,"color":"black","align":"center","baseline":"middle"},
 "encoding":{
  "x":{"field":"t","type":"quantitative","axis":null},
  "y":{"field":"v","type":"quantitative","axis":null},
  "text":{"field":"label"}
 }}
],
"resolve":{"axis":{"x":"independent","y":"independent"}}
}
